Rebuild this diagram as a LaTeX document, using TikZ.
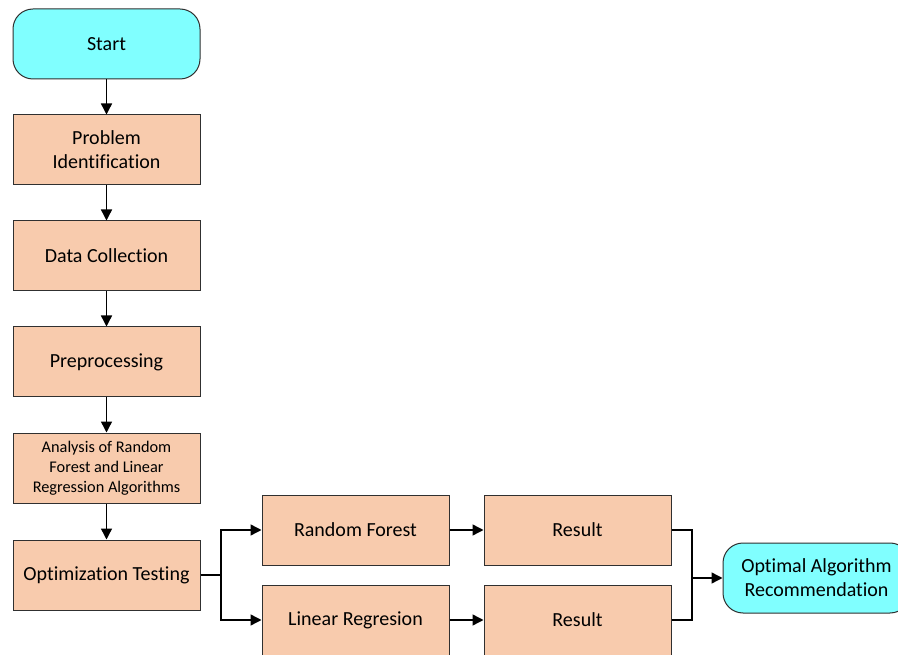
\documentclass[tikz,border=0pt]{standalone}
\usepackage{fontspec}
\setmainfont{Carlito}[Ligatures=NoCommon]
\usepackage{xcolor}
\usepackage{tikz}
\usetikzlibrary{arrows.meta}
\definecolor{termfill}{HTML}{80FFFF}
\definecolor{stepfill}{HTML}{F8CBAD}
\definecolor{edge}{HTML}{303030}
\tikzset{
  term/.style={draw=edge, fill=termfill, rounded corners=20pt, line width=1pt,
    minimum width=187pt, minimum height=70pt, align=center, font=\fontsize{20}{24}\selectfont},
  stepbox/.style={draw=edge, fill=stepfill, line width=1pt,
    minimum width=187pt, minimum height=70pt, align=center, font=\fontsize{20}{24}\selectfont},
  small/.style={font=\fontsize{16.3}{20}\selectfont},
  link/.style={draw=black, line width=1.4pt},
  flow/.style={link, -{Triangle[length=11pt,width=11pt]}}
}

\begin{document}
\begin{tikzpicture}[x=1pt, y=-1pt]
  \clip (0,0) rectangle (898,655);
  \fill[white] (0,0) rectangle (898,655);

  % main column
  \node[term]    (start)    at (106.5,44)  {Start};
  \node[stepbox] (problem)  at (106.5,150) {Problem\\Identification};
  \node[stepbox] (collect)  at (106.5,256) {Data Collection};
  \node[stepbox] (prep)     at (106.5,362) {Preprocessing};
  \node[stepbox, small] (analysis) at (106.5,468) {Analysis of Random\\Forest and Linear\\Regression Algorithms};
  \node[stepbox] (optim)    at (106.5,575) {Optimization Testing};

  % branches
  \node[stepbox] (rforest)  at (355.5,530) {Random Forest};
  \node[stepbox] (linreg)   at (355.5,620) {Linear Regresion};
  \node[stepbox] (res1)     at (577.5,530) {Result};
  \node[stepbox] (res2)     at (577.5,620) {Result};
  \node[term]    (best)     at (816.5,578) {Optimal Algorithm\\Recommendation};

  \coordinate (fork) at (221,575);
  \coordinate (join) at (692,578);

  \draw[flow] (start) -- (problem);
  \draw[flow] (problem) -- (collect);
  \draw[flow] (collect) -- (prep);
  \draw[flow] (prep) -- (analysis);
  \draw[flow] (analysis) -- (optim);

  \draw[link] (optim.east) -- (fork);
  \draw[flow] (fork) |- (rforest.west);
  \draw[flow] (fork) |- (linreg.west);
  \draw[flow] (rforest) -- (res1);
  \draw[flow] (linreg) -- (res2);

  \draw[link] (res1.east) -| (join);
  \draw[link] (res2.east) -| (join);
  \draw[flow] (join) -- (best.west);
\end{tikzpicture}
\end{document}
